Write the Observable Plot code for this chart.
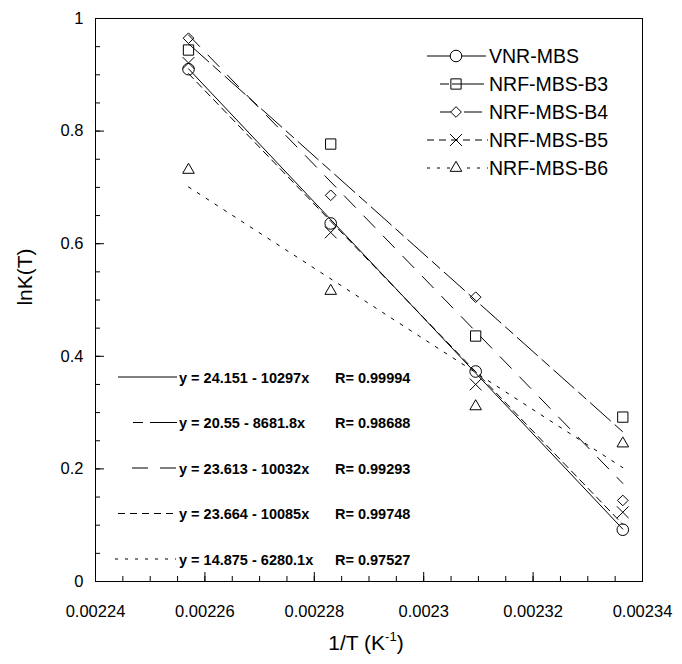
<!DOCTYPE html>
<html><head><meta charset="utf-8">
<script src="https://cdn.jsdelivr.net/npm/d3@7"></script>
<script src="https://cdn.jsdelivr.net/npm/@observablehq/plot@0.6"></script>
<style>body{margin:0;background:#fff}</style>
</head><body><div id="chart"></div>
<script>
// ---- data ----
const series = ["VNR-MBS", "NRF-MBS-B3", "NRF-MBS-B4", "NRF-MBS-B5", "NRF-MBS-B6"];
const invT = [0.002257, 0.002283, 0.0023095, 0.0023364];
const lnK_VNR = [0.910, 0.636, 0.373, 0.092];
const lnK_B3  = [0.944, 0.777, 0.436, 0.292];
const lnK_B4  = [0.965, 0.686, 0.505, 0.144];
const lnK_B5  = [0.921, 0.620, 0.350, 0.123];
const lnK_B6  = [0.731, 0.516, 0.311, 0.245];
const intercepts = [24.151, 20.55, 23.613, 23.664, 14.875];
const slopes = [-10297, -8681.8, -10032, -10085, -6280.1];
const eqLabels = ["y = 24.151 - 10297x", "y = 20.55 - 8681.8x", "y = 23.613 - 10032x", "y = 23.664 - 10085x", "y = 14.875 - 6280.1x"];
const rLabels = ["R= 0.99994", "R= 0.98688", "R= 0.99293", "R= 0.99748", "R= 0.97527"];
const xTicks = [0.00224, 0.00226, 0.00228, 0.0023, 0.00232, 0.00234];
const xTickLabels = ["0.00224", "0.00226", "0.00228", "0.0023", "0.00232", "0.00234"];
const yTicks = [0, 0.2, 0.4, 0.6, 0.8, 1];
const yTickLabels = ["0", "0.2", "0.4", "0.6", "0.8", "1"];

// ---- styles ----
const symbols = ["circle", "square", "diamond2", "times", "triangle"];
const d3symbols = [d3.symbolCircle, d3.symbolSquare, d3.symbolDiamond2, d3.symbolTimes, d3.symbolTriangle];
const radii = [5.8, 5.8, 4.8, 5.4, 4.3];
const dashes = [null, "27,6,10,6", "16,12", "7,5", "3,7.5"];

const values = [lnK_VNR, lnK_B3, lnK_B4, lnK_B5, lnK_B6];
const points = series.map((s, i) => invT.map((x, j) => ({series: s, x, y: values[i][j]})));
const fits = series.map((s, i) => [invT[0], invT[invT.length - 1]].map(x => ({series: s, x, y: intercepts[i] + slopes[i] * x})));

const xMinor = d3.range(0, 21).map(k => 0.00224 + k * 0.000005);
const yMinor = d3.range(0, 21).map(k => k * 0.05);

const marks = [
  Plot.frame({stroke: "#000"}),
  Plot.axisX(xMinor, {tickSize: 5, dy: -5, text: null, label: null, stroke: "#000"}),
  Plot.axisX(xTicks, {tickSize: 9, dy: -9, text: null, label: null, stroke: "#000"}),
  Plot.axisX(xTicks, {tickSize: 0, tickPadding: 24, tickFormat: d => xTickLabels[xTicks.indexOf(d)], label: null}),
  Plot.axisY(yMinor, {tickSize: 5, dx: 5, text: null, label: null, stroke: "#000"}),
  Plot.axisY(yTicks, {tickSize: 9, dx: 9, text: null, label: null, stroke: "#000"}),
  Plot.axisY(yTicks, {tickSize: 0, tickPadding: 12, tickFormat: d => yTickLabels[yTicks.indexOf(d)], label: null}),
];
series.forEach((s, i) => {
  marks.push(Plot.line(fits[i], {x: "x", y: "y", stroke: "#000", strokeWidth: 1, strokeDasharray: dashes[i]}));
});
series.forEach((s, i) => {
  marks.push(Plot.dot(points[i], {x: "x", y: "y", symbol: symbols[i], r: radii[i], stroke: "#000", strokeWidth: 1, fill: "none"}));
});

const chart = Plot.plot({
  width: 682, height: 664,
  marginLeft: 95, marginRight: 40, marginTop: 18, marginBottom: 83,
  style: {fontFamily: "Arial, 'Liberation Sans', sans-serif", fontSize: "16.5px", color: "#000", background: "#fff", overflow: "visible"},
  x: {domain: [0.00224, 0.00234]},
  y: {domain: [0, 1]},
  marks
});
document.getElementById("chart").appendChild(chart);

// ---- annotations: legend, equations, axis titles ----
const svg = d3.select(chart);
const font = "Arial, 'Liberation Sans', sans-serif";

// legend (top right)
const legX = 489, legY0 = 56, legDY = 28, legMarkX = 456;
const legSegs = [
  [[427, 486]],
  [[440, 449], [452, 484]],
  [[440, 451], [464, 482]],
  [[427, 488]],
  [[427, 488]]
];
const legDash = [null, null, null, "7,5", "3,7"];
const leg = svg.append("g").attr("text-anchor", "start");
series.forEach((s, i) => {
  const y = legY0 + i * legDY;
  legSegs[i].forEach(([a, b]) => {
    leg.append("line").attr("x1", a).attr("x2", b).attr("y1", y).attr("y2", y)
      .attr("stroke", "#000").attr("stroke-dasharray", legDash[i]);
  });
  leg.append("path").attr("d", d3.symbol(d3symbols[i], Math.PI * radii[i] * radii[i])())
    .attr("transform", `translate(${legMarkX},${y})`)
    .attr("fill", i === 0 || i >= 3 ? "#fff" : "none").attr("stroke", "#000");
  leg.append("text").attr("x", legX).attr("y", y + 7).text(s)
    .attr("text-anchor", "start").attr("font-family", font).attr("font-size", 19.5);
});

// equations (bottom left)
const eqY0 = 377, eqDY = 45.5, eqX = 179, rX = 335;
const eqSegs = [
  [[118, 177]],
  [[133, 143], [150, 177]],
  [[132, 148], [160, 176]],
  [[118, 177]],
  [[115, 176]]
];
const eqDash = [null, null, null, "7,5", "3,7"];
const eq = svg.append("g").attr("text-anchor", "start");
series.forEach((s, i) => {
  const y = eqY0 + i * eqDY;
  eqSegs[i].forEach(([a, b]) => {
    eq.append("line").attr("x1", a).attr("x2", b).attr("y1", y).attr("y2", y)
      .attr("stroke", "#000").attr("stroke-dasharray", eqDash[i]);
  });
  eq.append("text").attr("x", eqX).attr("y", y + 5.5).text(eqLabels[i])
    .attr("text-anchor", "start").attr("font-family", font).attr("font-size", 14.5).attr("font-weight", "bold");
  eq.append("text").attr("x", rX).attr("y", y + 5.5).text(rLabels[i])
    .attr("text-anchor", "start").attr("font-family", font).attr("font-size", 14.5).attr("font-weight", "bold");
});

// axis titles
svg.append("text").attr("transform", "translate(32,277) rotate(-90)")
  .attr("text-anchor", "middle").attr("font-family", font).attr("font-size", 21).text("lnK(T)");
const xl = svg.append("text").attr("x", 366).attr("y", 650).attr("text-anchor", "middle")
  .attr("font-family", font).attr("font-size", 21);
xl.append("tspan").text("1/T (K");
xl.append("tspan").attr("font-size", 13).attr("dy", -9).text("-1");
xl.append("tspan").attr("dy", 9).text(")");
</script>
</body></html>
